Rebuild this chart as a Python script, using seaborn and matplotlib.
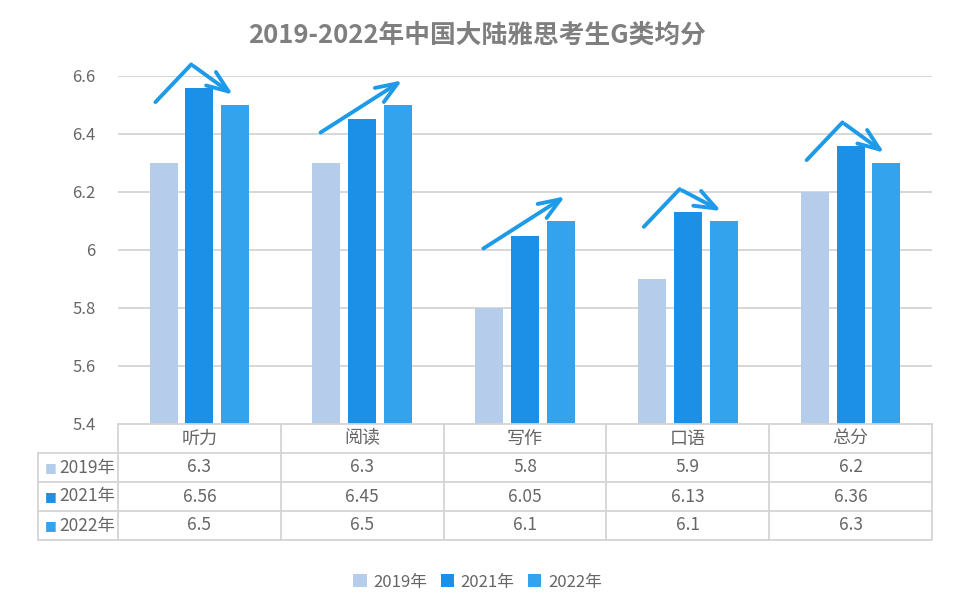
import matplotlib as mpl
import matplotlib.pyplot as plt
import numpy as np
import pandas as pd
import seaborn as sns

# data
categories = ['听力', '阅读', '写作', '口语', '总分']
years = ['2019年', '2021年', '2022年']
scores_2019 = [6.3, 6.3, 5.8, 5.9, 6.2]
scores_2021 = [6.56, 6.45, 6.05, 6.13, 6.36]
scores_2022 = [6.5, 6.5, 6.1, 6.1, 6.3]
yticks = [5.4, 5.6, 5.8, 6.0, 6.2, 6.4, 6.6]
ytick_labels = ['5.4', '5.6', '5.8', '6', '6.2', '6.4', '6.6']

colors = ['#B5CDEA', '#1C8FE6', '#33A3EE']
arrow_color = '#1E9BE8'
text_gray = '#666666'
line_gray = '#D4D4D4'

sns.set_theme(style='white')
plt.rcParams['font.family'] = ['Noto Sans CJK SC', 'DejaVu Sans']

all_scores = [scores_2019, scores_2021, scores_2022]
df = pd.DataFrame({
    'cat': categories * 3,
    'score': scores_2019 + scores_2021 + scores_2022,
    'year': [y for y in years for _ in categories],
})

fig = plt.figure(figsize=(9.55, 6.15), dpi=100)
W, H = 955, 615
ax = fig.add_axes([118 / W, 1 - 424 / H, 814 / W, 348 / H])

sns.barplot(data=df, x='cat', y='score', hue='year', palette=colors,
            width=0.66, gap=0.22, ax=ax, saturation=1, linewidth=0)
handles, labels = ax.get_legend_handles_labels()
ax.get_legend().remove()

ax.set_ylim(5.4, 6.6)
ax.set_xlim(-0.5, 4.5)
ax.set_yticks(yticks)
ax.set_yticklabels(ytick_labels, color=text_gray, fontsize=12)
ax.set_xticks([])
ax.set_xlabel('')
ax.set_ylabel('')
ax.tick_params(axis='y', length=0, pad=16)
for s in ax.spines.values():
    s.set_visible(False)
for t in yticks[1:]:
    ax.axhline(t, color=line_gray, lw=1.3, zorder=0)

# trend arrows above each group
hs = dict(arrowstyle='->,head_length=1.3,head_width=0.5', lw=2.8, color=arrow_color)
for i in range(len(categories)):
    v19, v21, v22 = scores_2019[i], scores_2021[i], scores_2022[i]
    start = (i - 0.27, v21 - 0.05)
    if v21 > v22:
        peak = (i - 0.05, v21 + 0.08)
        end = (i + 0.22, v22 + 0.03)
        ax.plot([start[0], peak[0]], [start[1], peak[1]], color=arrow_color,
                lw=2.8, solid_capstyle='round', clip_on=False)
        ax.annotate('', xy=end, xytext=peak, arrowprops=hs, annotation_clip=False)
    else:
        end = (i + 0.26, v22 + 0.09)
        ax.annotate('', xy=end, xytext=start, arrowprops=hs, annotation_clip=False)

# data table under the chart
tab = fig.add_axes([38 / W, 1 - 540 / H, 894 / W, 116 / H])
lab_w = 80 / 163
tab.set_xlim(-0.5 - lab_w, 4.5)
tab.set_ylim(4, 0)
tab.axis('off')
kw = dict(color=line_gray, lw=1.3, clip_on=False)
# horizontal lines
tab.plot([-0.5, 4.5], [0, 0], **kw)
for r in range(1, 5):
    tab.plot([-0.5 - lab_w, 4.5], [r, r], **kw)
# vertical lines
tab.plot([-0.5 - lab_w, -0.5 - lab_w], [1, 4], **kw)
for c in range(6):
    tab.plot([c - 0.5, c - 0.5], [0, 4], **kw)
for c, name in enumerate(categories):
    tab.text(c, 0.5, name, ha='center', va='center', fontsize=13, color=text_gray)
for r, (yr, vals) in enumerate(zip(years, all_scores)):
    for c, v in enumerate(vals):
        tab.text(c, r + 1.5, f'{v:g}', ha='center', va='center', fontsize=12.5, color=text_gray)
    tab.text(-0.5 - lab_w + 0.08, r + 1.5, '■', ha='center', va='center',
             fontsize=9, color=colors[r], family=['DejaVu Sans'])
    tab.text(-0.5 - lab_w + 0.13, r + 1.5, yr, ha='left', va='center',
             fontsize=12.5, color=text_gray)

fig.text(0.5, 1 - 35 / H, '2019-2022年中国大陆雅思考生G类均分', ha='center', va='center',
         fontsize=18.5, fontweight='bold', color='#7F7F7F')

fig.legend(handles, labels, loc='center', bbox_to_anchor=(0.5, 1 - 582 / H), ncol=3,
           frameon=False, fontsize=12, handlelength=0.8, handleheight=0.8,
           handletextpad=0.4, columnspacing=0.8, labelcolor=text_gray)

fig.savefig('out.png', dpi=100, facecolor='white')
